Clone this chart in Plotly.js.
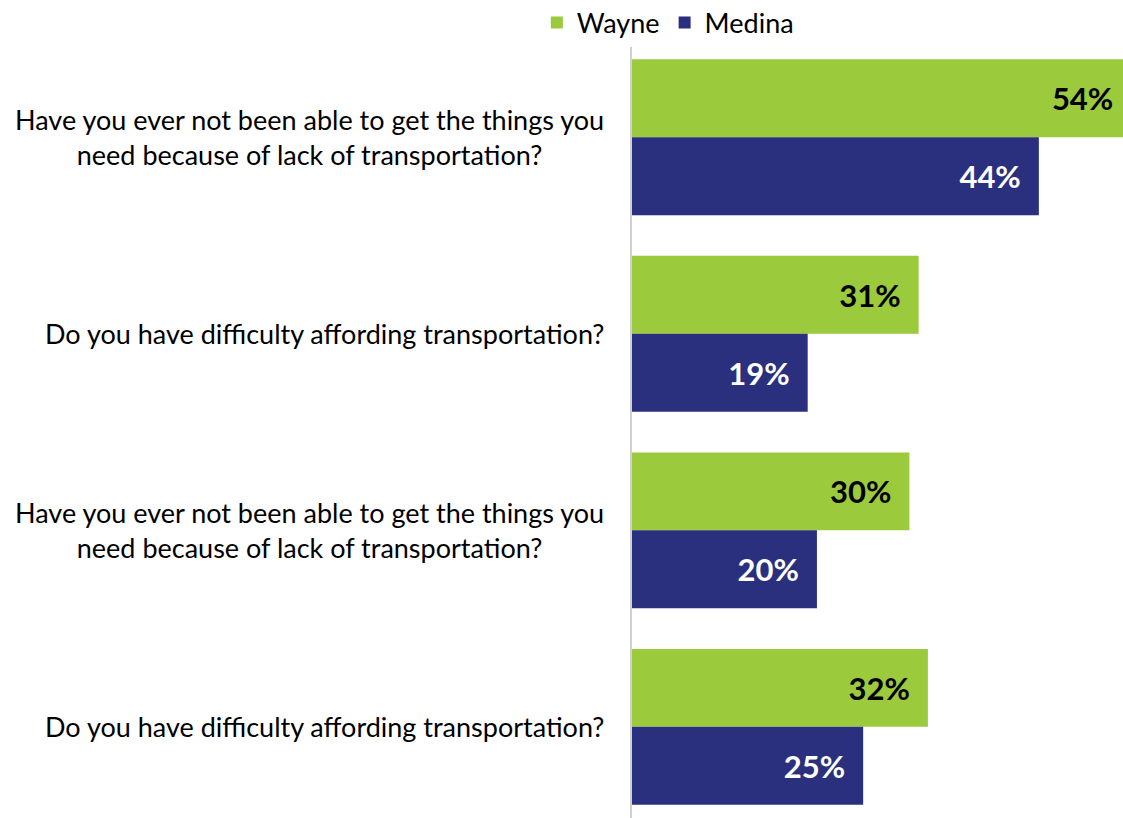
<!DOCTYPE html>
<html>
<head>
<meta charset="utf-8">
<script src="https://cdn.plot.ly/plotly-3.0.1.min.js"></script>
<style>html,body{margin:0;padding:0;background:#fff;}#chart{width:1123px;height:818px;}</style>
</head>
<body>
<div id="chart"></div>
<script>
var questions = [
  "Have you ever not been able to get the things you<br>need because of lack of transportation?",
  "Do you have difficulty affording transportation?",
  "Have you ever not been able to get the things you<br>need because of lack of transportation?",
  "Do you have difficulty affording transportation?"
];
var positions = [0, 1, 2, 3];
var wayne = [54, 31, 30, 32];
var medina = [44, 19, 20, 25];
var seriesNames = ["Wayne", "Medina"];

var FONT = "Lato, 'Liberation Sans', sans-serif";
var GREEN = "#9BCA3C";
var NAVY = "#2A2F7E";
var PAD = "\u00a0\u00a0";

function pct(arr){ return arr.map(function(v){ return v + "%" + PAD; }); }

var traces = [
  {
    type: "bar", orientation: "h", name: seriesNames[0],
    y: positions, x: wayne, text: pct(wayne),
    textposition: "inside", insidetextanchor: "end", constraintext: "none",
    textfont: {family: FONT, size: 31, color: "#000", weight: "bold"},
    marker: {color: GREEN}, hoverinfo: "none", cliponaxis: true
  },
  {
    type: "bar", orientation: "h", name: seriesNames[1],
    y: positions, x: medina, text: pct(medina),
    textposition: "inside", insidetextanchor: "end", constraintext: "none",
    textfont: {family: FONT, size: 31, color: "#fff", weight: "bold"},
    marker: {color: NAVY}, hoverinfo: "none", cliponaxis: true
  }
];

var annotations = questions.map(function(q, i){
  return {
    xref: "paper", yref: "y", x: 0, y: positions[i],
    xanchor: "right", yanchor: "middle", xshift: -26,
    align: "center", showarrow: false, text: q,
    font: {family: FONT, size: 27, color: "#000"}
  };
});

var layout = {
  width: 1123, height: 818,
  margin: {l: 632, r: 0, t: 39, b: 0, pad: 0, autoexpand: false},
  paper_bgcolor: "#fff", plot_bgcolor: "#fff",
  barmode: "group", bargap: 0.207, bargroupgap: 0,
  showlegend: true,
  legend: {
    orientation: "h", x: 0.073, xanchor: "center", y: 0.972, yanchor: "middle",
    xref: "paper", yref: "container",
    font: {family: FONT, size: 27, color: "#000"},
    traceorder: "normal", itemclick: false
  },
  xaxis: {
    range: [0, 53.1], showgrid: false, zeroline: false, showline: false,
    showticklabels: false, ticks: "", fixedrange: true
  },
  yaxis: {
    range: [3.464, -0.5], tickvals: positions, showticklabels: false,
    showgrid: false, zeroline: false, showline: true,
    linecolor: "#D0D0D0", linewidth: 2, ticks: "", fixedrange: true
  },
  annotations: annotations
};

Plotly.newPlot("chart", traces, layout, {displayModeBar: false, staticPlot: true});
</script>
</body>
</html>
